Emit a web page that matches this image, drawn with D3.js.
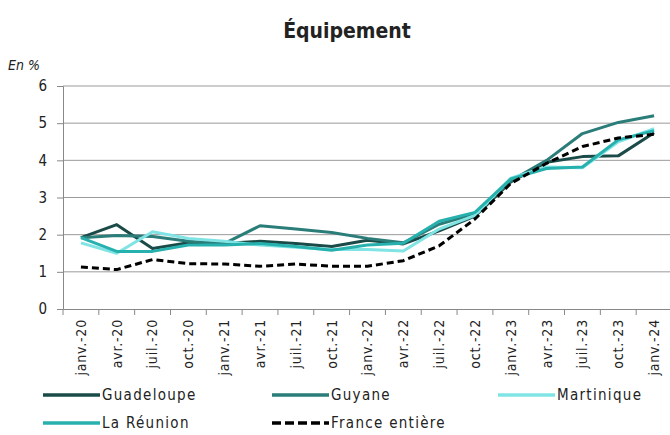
<!DOCTYPE html>
<html>
<head>
<meta charset="utf-8">
<script src="https://cdn.jsdelivr.net/npm/d3@7"></script>
<style>
  body { margin: 0; background: #fff; }
  text { font-family: "DejaVu Sans Condensed", "DejaVu Sans", sans-serif; fill: #222; }
</style>
</head>
<body>
<svg id="chart" width="670" height="435"></svg>
<script>
const months = ["janv.-20","avr.-20","juil.-20","oct.-20","janv.-21","avr.-21","juil.-21","oct.-21",
  "janv.-22","avr.-22","juil.-22","oct.-22","janv.-23","avr.-23","juil.-23","oct.-23","janv.-24"];
const guadeloupe = [1.92, 2.27, 1.63, 1.78, 1.76, 1.82, 1.76, 1.68, 1.85, 1.75, 2.1, 2.5, 3.42, 3.95, 4.1, 4.12, 4.74];
const guyane     = [1.92, 1.98, 1.95, 1.82, 1.76, 2.24, 2.15, 2.06, 1.9, 1.78, 2.28, 2.56, 3.45, 4.0, 4.72, 5.02, 5.2];
const martinique = [1.78, 1.5, 2.08, 1.9, 1.82, 1.72, 1.66, 1.6, 1.6, 1.56, 2.15, 2.52, 3.52, 3.82, 3.8, 4.5, 4.85];
const reunion    = [1.92, 1.55, 1.55, 1.72, 1.72, 1.76, 1.68, 1.58, 1.72, 1.77, 2.36, 2.6, 3.5, 3.78, 3.82, 4.55, 4.8];
const france     = [1.13, 1.06, 1.33, 1.22, 1.21, 1.15, 1.21, 1.15, 1.15, 1.3, 1.7, 2.42, 3.38, 3.92, 4.37, 4.6, 4.7];
const yTicks = [0, 1, 2, 3, 4, 5, 6];

const series = [
  { name: "Guadeloupe", values: guadeloupe, color: "#1b4b48", dash: null },
  { name: "Guyane", values: guyane, color: "#2b7d79", dash: null },
  { name: "Martinique", values: martinique, color: "#80e4e4", dash: null },
  { name: "La Réunion", values: reunion, color: "#27b1ae", dash: null },
  { name: "France entière", values: france, color: "#000", dash: "7,4" }
];

const svg = d3.select('#chart');
const plotLeft = 63, plotRight = 672, plotTop = 86, plotBottom = 309;

const x = d3.scaleBand().domain(months).range([plotLeft, plotRight]);
const y = d3.scaleLinear().domain([0, 6]).range([plotBottom, plotTop]);

svg.append('text')
  .attr('x', 347).attr('y', 38)
  .attr('text-anchor', 'middle')
  .style('font-size', '21px').style('font-weight', 'bold')
  .text('Équipement');

svg.append('text')
  .attr('x', 8).attr('y', 70)
  .style('font-size', '14px').style('font-style', 'italic')
  .text('En %');

// grid
svg.append('g')
  .selectAll('line')
  .data(yTicks.filter(d => d > 0))
  .join('line')
    .attr('x1', plotLeft).attr('x2', plotRight)
    .attr('y1', d => y(d)).attr('y2', d => y(d))
    .attr('stroke', '#9a9a9a').attr('stroke-width', 1);

const yAxis = svg.append('g')
  .attr('transform', `translate(${plotLeft},0)`)
  .call(d3.axisLeft(y).tickValues(yTicks).tickSize(6).tickFormat(d3.format('d')));
yAxis.select('.domain').attr('stroke', '#888');
yAxis.selectAll('.tick line').attr('stroke', '#888');
yAxis.selectAll('text').style('font-size', '15px').attr('fill', '#222').attr('x', -16);

const xAxis = svg.append('g')
  .attr('transform', `translate(0,${plotBottom})`)
  .call(d3.axisBottom(x).tickSize(0).tickSizeOuter(0));
xAxis.select('.domain').attr('stroke', '#888');
xAxis.selectAll('text')
  .style('font-size', '14px').style('letter-spacing', '0.8px').attr('fill', '#222')
  .attr('transform', 'rotate(-90)')
  .attr('text-anchor', 'end')
  .attr('x', -10).attr('y', 0).attr('dy', '0.35em');
xAxis.selectAll('.bound')
  .data(d3.range(months.length + 1))
  .join('line')
    .attr('class', 'bound')
    .attr('x1', i => plotLeft + i * x.step()).attr('x2', i => plotLeft + i * x.step())
    .attr('y1', 0).attr('y2', 6)
    .attr('stroke', '#888');

const line = d3.line()
  .x((d, i) => x(months[i]) + x.bandwidth() / 2)
  .y(d => y(d));

svg.append('g')
  .selectAll('path')
  .data(series)
  .join('path')
    .attr('d', d => line(d.values))
    .attr('fill', 'none')
    .attr('stroke', d => d.color)
    .attr('stroke-width', 3)
    .attr('stroke-dasharray', d => d.dash)
    .attr('stroke-linejoin', 'round');

// legend
const legendPos = [[43, 395], [272, 395], [498, 395], [43, 423], [272, 423]];
const legend = svg.append('g')
  .selectAll('g')
  .data(series)
  .join('g')
    .attr('transform', (d, i) => `translate(${legendPos[i][0]},${legendPos[i][1]})`);
legend.append('line')
  .attr('x1', 0).attr('x2', 57)
  .attr('stroke', d => d.color)
  .attr('stroke-width', 3.5)
  .attr('stroke-dasharray', d => d.dash ? '9,4' : null);
legend.append('text')
  .attr('x', 59).attr('dy', '0.35em')
  .style('font-size', '15px').style('letter-spacing', '1.3px')
  .text(d => d.name);
</script>
</body>
</html>
